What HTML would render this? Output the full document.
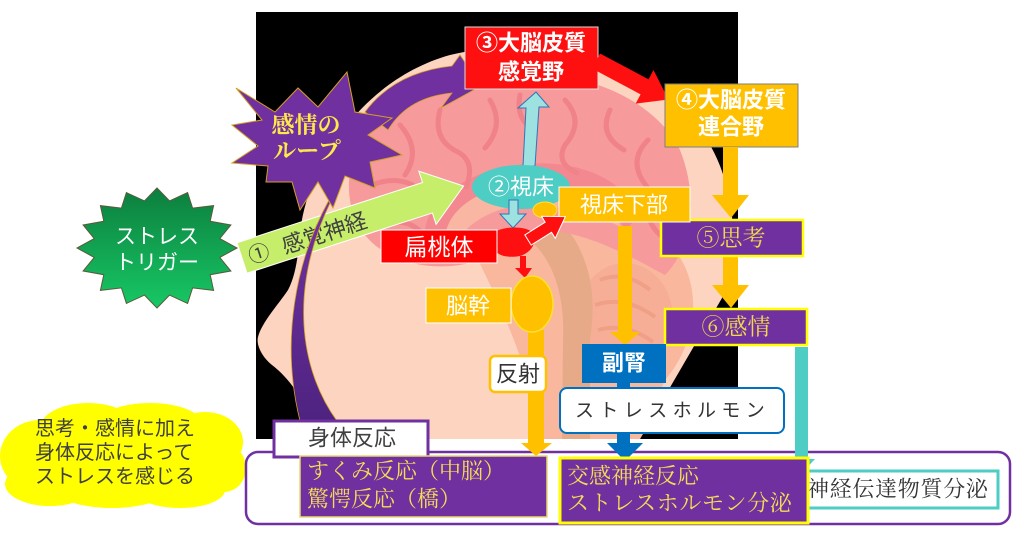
<!DOCTYPE html>
<html><head><meta charset="utf-8"><style>
html,body{margin:0;padding:0;background:#fff;}
svg{display:block;}
text{font-family:"Liberation Sans","Noto Sans CJK JP",sans-serif;}
.sf{font-family:"Liberation Serif","Noto Serif CJK SC",serif;}
</style></head><body>
<svg width="1024" height="541" viewBox="0 0 1024 541" xmlns="http://www.w3.org/2000/svg">
<defs>
<linearGradient id="gs" x1="0" y1="0" x2="0" y2="1"><stop offset="0" stop-color="#0C7E3E"/><stop offset="1" stop-color="#17C865"/></linearGradient>
<linearGradient id="pb" x1="0" y1="0" x2="0" y2="1"><stop offset="0" stop-color="#7232A2"/><stop offset="1" stop-color="#4E2380"/></linearGradient>
</defs>
<rect width="1024" height="541" fill="#fff"/>
<!-- cloud -->
<g fill="#FFFF00">
<ellipse cx="40" cy="456" rx="40" ry="36"/>
<ellipse cx="88" cy="428" rx="48" ry="25"/>
<ellipse cx="150" cy="424" rx="52" ry="21"/>
<ellipse cx="205" cy="442" rx="38" ry="30"/>
<ellipse cx="224" cy="468" rx="22" ry="24"/>
<ellipse cx="180" cy="490" rx="45" ry="18"/>
<ellipse cx="112" cy="492" rx="52" ry="16"/>
<ellipse cx="50" cy="484" rx="45" ry="22"/>
<ellipse cx="122" cy="456" rx="108" ry="40"/>
</g>
<text x="35" y="429" font-size="20" fill="#404040" dominant-baseline="central">思考・感情に加え</text>
<text x="35" y="453" font-size="20" fill="#404040" dominant-baseline="central">身体反応によって</text>
<text x="35" y="477" font-size="20" fill="#404040" dominant-baseline="central">ストレスを感じる</text>

<!-- black background -->
<rect x="256" y="12" width="482" height="427" fill="#000"/>
<!-- head -->
<path d="M305,439 L300,400 C297,390 285,375 272,365 C262,357 256,345 258,337 C262,322 278,305 288,290 C296,275 298,255 300,235 C305,170 360,80 450,55 C530,35 640,60 700,130 C735,175 742,250 722,298 L640,439 Z" fill="#FDD4BF"/>
<!-- lower salmon region -->
<path d="M460,225 C520,210 610,212 665,240 C705,275 700,340 665,380 L640,439 L540,439 C535,380 500,300 460,225 Z" fill="#F9B79E"/>
<ellipse cx="625" cy="318" rx="48" ry="55" fill="#F7AE96"/>
<path d="M600,280 q25,-10 50,10 M595,305 q30,-10 60,12 M598,330 q28,-8 55,12 M605,352 q22,-6 42,8" stroke="#EFA086" stroke-width="4" fill="none"/>
<!-- brainstem -->
<path d="M478,205 C520,205 560,215 575,240 C592,270 596,300 590,340 L590,439 L562,439 L563,340 C565,300 555,265 535,245 C515,232 490,228 478,225 Z" fill="#E6AA88"/>
<!-- cerebrum -->
<path d="M350,200 C340,140 400,85 480,75 C560,62 650,90 680,150 C700,200 690,250 665,275 C640,262 600,238 560,232 C520,236 495,262 452,266 C400,270 356,245 350,200 Z" fill="#F79A9C"/>
<path d="M425,232 C430,160 600,130 640,215 L625,230 C600,170 470,170 452,236 Z" fill="#F38890"/>
<path d="M445,238 C450,175 590,160 622,228 C600,215 560,205 530,205 C500,205 470,220 458,240 Z" fill="#F9B6A2"/>
<g stroke="#F08289" stroke-width="5" fill="none" stroke-linecap="round">
<path d="M400,125 q22,25 5,50"/>
<path d="M440,110 q-8,30 18,42 q18,10 8,35"/>
<path d="M490,100 q15,25 -5,48"/>
<path d="M520,95 q-5,25 15,35"/>
<path d="M565,100 q20,22 0,45 q-10,18 12,28"/>
<path d="M610,110 q-12,25 14,40"/>
<path d="M648,140 q-22,22 0,48"/>
<path d="M372,185 q30,-12 52,8"/>
<path d="M380,225 q25,-8 40,6"/>
<path d="M655,200 q-15,15 5,35"/>
</g>

<!-- bottom rounded container -->
<rect x="246" y="452" width="764" height="72" rx="12" fill="#fff" stroke="#7030A0" stroke-width="2.5"/>

<!-- green star -->
<polygon points="237,248 219.8,257.4 230.9,271 210.2,274.7 213.6,290.4 192.6,287.9 187.6,303.4 169.5,295.1 157,308 144.5,295.1 126.4,303.4 121.4,287.9 100.4,290.4 103.8,274.7 83.1,271 94.2,257.4 77,248 94.2,238.6 83.1,225 103.8,221.3 100.4,205.6 121.4,208.1 126.4,192.6 144.5,200.9 157,188 169.5,200.9 187.6,192.6 192.6,208.1 213.6,205.6 210.2,221.3 230.9,225 219.8,238.6" fill="url(#gs)" stroke="#5a5a3a" stroke-width="1"/>
<text x="157" y="237" font-size="21" fill="#fff" text-anchor="middle" dominant-baseline="central">ストレス</text>
<text x="157" y="263" font-size="21" fill="#fff" text-anchor="middle" dominant-baseline="central">トリガー</text>

<!-- green arrow -->
<g transform="translate(242,258) rotate(-18)">
<polygon points="0,-16 195,-16 195,-28 233,0 195,28 195,16 0,16" fill="#C6EE6B" stroke="#fff" stroke-width="1"/>
<text x="7" y="2" font-size="21" fill="#404040" dominant-baseline="central">①</text>
<text x="42" y="2" font-size="22" fill="#404040" dominant-baseline="central">感覚神経</text>
</g>

<!-- purple band from body reaction to star -->
<path d="M329,200 C296,260 280,340 300,421 L337,421 C300,370 288,290 331,201 Z" fill="url(#pb)" stroke="#D4A020" stroke-width="0.8"/>

<!-- purple curved arrow to ③ -->
<path d="M365,112 C385,85 415,70 452,66 L460,55 L481,86 L441,108 L452,93 C420,96 400,110 388,130 Z" fill="#7030A0" stroke="#D4A020" stroke-width="0.8"/>

<!-- purple star -->
<polygon points="236,88 275,112 298,88 318,107 347,72 355,112 392,118 368,135 402,155 370,162 375,188 345,176 333,208 318,182 300,210 292,182 266,182 268,166 232,163 258,146 232,125 262,120" fill="#7030A0" stroke="#D4A020" stroke-width="1"/>
<text class="sf" x="306" y="125" font-size="23" font-weight="bold" fill="#FFE84A" text-anchor="middle" dominant-baseline="central">感情の</text>
<text class="sf" x="307" y="151" font-size="23" font-weight="bold" fill="#FFE84A" text-anchor="middle" dominant-baseline="central">ループ</text>

<!-- ③ box -->
<rect x="465" y="27" width="133" height="62" fill="#FF1010" stroke="#ddd" stroke-width="1"/>
<text x="531" y="43" font-size="22" font-weight="bold" fill="#fff" text-anchor="middle" dominant-baseline="central">③大脳皮質</text>
<text x="531" y="72" font-size="22" font-weight="bold" fill="#fff" text-anchor="middle" dominant-baseline="central">感覚野</text>

<!-- red arrow ③→④ -->
<g transform="translate(596,61) rotate(28)">
<polygon points="0,-8.5 55,-8.5 55,-19 82,0 55,19 55,8.5 0,8.5" fill="#FF1010"/>
</g>

<!-- ④ box -->
<rect x="665" y="84" width="133" height="63" fill="#FFC000" stroke="#7f7f7f" stroke-width="1"/>
<text x="731" y="100" font-size="22" font-weight="bold" fill="#fff" text-anchor="middle" dominant-baseline="central">④大脳皮質</text>
<text x="731" y="127" font-size="22" font-weight="bold" fill="#fff" text-anchor="middle" dominant-baseline="central">連合野</text>

<!-- orange arrows ④→⑤→⑥ -->
<polygon points="723,147 738,147 738,195 749,195 731,218 712,195 723,195" fill="#FFC000"/>
<polygon points="723,256 738,256 738,285 749,285 731,308 712,285 723,285" fill="#FFC000"/>

<!-- cyan arrows -->
<polygon points="523,166 526,108 518,108 536,92 549,107 539,107 535,166" fill="#9DE1E0" stroke="#2E75B6" stroke-width="1"/>
<ellipse cx="521" cy="187" rx="49" ry="22" fill="#4ECDC4"/>
<text x="521" y="187" font-size="22" fill="#fff" text-anchor="middle" dominant-baseline="central">②視床</text>
<polygon points="509,200 518,200 518,214 526,214 513,228 500,214 509,214" fill="#9DE1E0" stroke="#2E75B6" stroke-width="1"/>

<!-- ⑤ ⑥ boxes -->
<rect x="661" y="220" width="142" height="36" fill="#7030A0" stroke="#FFFF00" stroke-width="2.5"/>
<text class="sf" x="731" y="238" font-size="23" fill="#F2D84B" text-anchor="middle" dominant-baseline="central">⑤思考</text>
<rect x="665" y="309" width="142" height="36" fill="#7030A0" stroke="#FFFF00" stroke-width="2.5"/>
<text class="sf" x="736" y="327" font-size="23" fill="#F2D84B" text-anchor="middle" dominant-baseline="central">⑥感情</text>

<!-- hypothalamus -->
<ellipse cx="545" cy="210" rx="12" ry="8" fill="#FFC000" stroke="#FFE040" stroke-width="1"/>
<rect x="559" y="187" width="131" height="35" fill="#FFC000" stroke="#fff" stroke-width="1"/>
<text x="624" y="205" font-size="22" fill="#fff" text-anchor="middle" dominant-baseline="central">視床下部</text>
<polygon points="618,226 632,226 632,332 640,332 625,345 610,332 618,332" fill="#FFC000"/>

<!-- amygdala -->
<path d="M495,232 C505,226 525,226 532,232 C538,240 533,252 520,256 C508,258 498,256 495,250 Z" fill="#FF1010"/>
<rect x="381" y="230" width="116" height="33" fill="#FF0000" stroke="#fff" stroke-width="1"/>
<text x="439" y="247" font-size="23" fill="#fff" text-anchor="middle" dominant-baseline="central">扁桃体</text>
<g transform="translate(528,240) rotate(-32)">
<polygon points="0,-6 24,-6 24,-13 44,0 24,13 24,6 0,6" fill="#FF1010" stroke="#fff" stroke-width="1"/>
</g>
<polygon points="520,256 526,256 526,268 532,268 525,278 515,268 520,268" fill="#FF1010"/>

<!-- brainstem label -->
<polygon points="528,330 544,330 544,443 552,443 536,456 521,443 528,443" fill="#FFC000"/>
<ellipse cx="532" cy="304" rx="21" ry="28" fill="#FFC000" stroke="#FFE030" stroke-width="1.5"/>
<rect x="426" y="288" width="85" height="35" fill="#FFC000" stroke="#fff" stroke-width="1"/>
<text x="468" y="306" font-size="22" fill="#fff" text-anchor="middle" dominant-baseline="central">脳幹</text>
<rect x="490" y="356" width="56" height="36" rx="5" fill="#fff" stroke="#FFC000" stroke-width="2.5"/>
<text x="518" y="374" font-size="22" fill="#333" text-anchor="middle" dominant-baseline="central">反射</text>

<!-- teal arrow -->
<polygon points="795,347 808,347 808,459 815,459 802,473 789,459 795,459" fill="#4ECDC4"/>
<rect x="799" y="471" width="199" height="37" fill="#fff" stroke="#4ECDC4" stroke-width="3"/>
<text class="sf" x="807" y="489" font-size="22" fill="#333" letter-spacing="0.7" dominant-baseline="central">神経伝達物質分泌</text>

<!-- adrenal -->
<polygon points="617,380 630,380 630,443 643,443 625,461 607,443 617,443" fill="#0070C0"/>
<rect x="582" y="344" width="84" height="39" fill="#0070C0"/>
<text x="624" y="363" font-size="22" font-weight="bold" fill="#fff" text-anchor="middle" dominant-baseline="central">副腎</text>
<rect x="560" y="388" width="224" height="45" rx="7" fill="#fff" stroke="#0070C0" stroke-width="2"/>
<text x="575" y="411" font-size="19" fill="#333" letter-spacing="5.4" dominant-baseline="central">ストレスホルモン</text>

<!-- bottom boxes -->
<rect x="274" y="421" width="154" height="36" fill="#fff" stroke="#7030A0" stroke-width="3"/>
<text x="352" y="438" font-size="22" fill="#404040" text-anchor="middle" dominant-baseline="central">身体反応</text>
<rect x="300" y="456" width="247" height="61" fill="#7030A0" stroke="#E8D870" stroke-width="1.5"/>
<text class="sf" x="307" y="471" font-size="22" fill="#F3DD55" dominant-baseline="central">すくみ反応（中脳）</text>
<text class="sf" x="307" y="499" font-size="22" fill="#F3DD55" dominant-baseline="central">驚愕反応（橋）</text>
<rect x="560" y="458" width="248" height="65" fill="#7030A0" stroke="#FFFF00" stroke-width="3"/>
<text class="sf" x="567" y="476" font-size="22" fill="#F3DD55" dominant-baseline="central">交感神経反応</text>
<text class="sf" x="567" y="503" font-size="22" fill="#F3DD55" letter-spacing="0.6" dominant-baseline="central">ストレスホルモン分泌</text>
</svg>
</body></html>
